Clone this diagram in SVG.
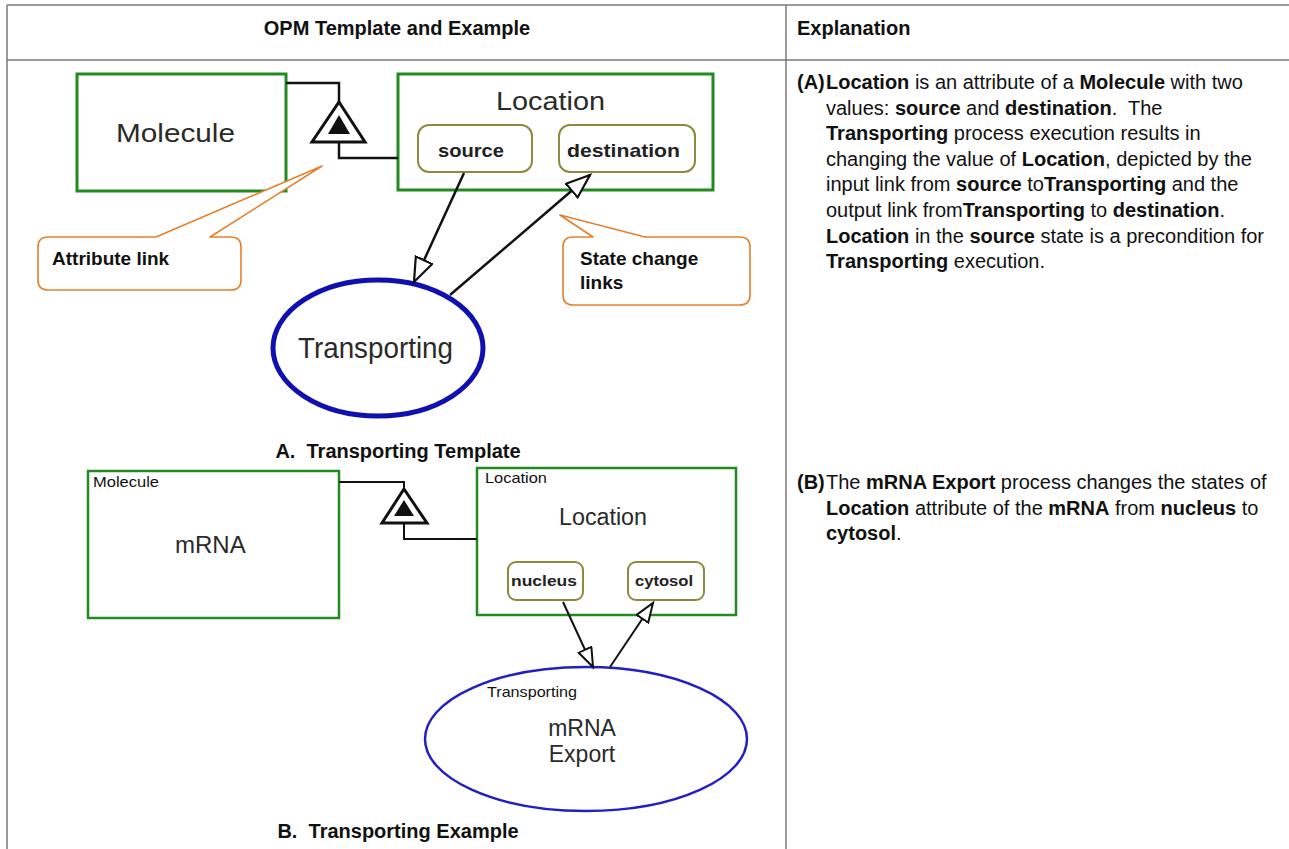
<svg xmlns="http://www.w3.org/2000/svg" width="1289" height="849" viewBox="0 0 1289 849">
<defs>
<style>
.grid{stroke:#7a7a7a;stroke-width:1.5;fill:none}
.hdr{font-family:"Liberation Sans",Arial,sans-serif;font-size:20px;font-weight:bold;fill:#111}
.cap{font-family:"Liberation Sans",Arial,sans-serif;font-size:20px;font-weight:bold;fill:#111;white-space:pre}
.exp{font-family:"Liberation Sans",Arial,sans-serif;font-size:20px;fill:#111;white-space:pre}
.b{font-weight:bold}
.obj{fill:#fff;stroke:#218a21;stroke-width:3}
.objB{fill:#fff;stroke:#218a21;stroke-width:2.5}
.state{fill:#fff;stroke:#8c8a3c;stroke-width:2}
.proc{fill:#fff;stroke:#1010b0;stroke-width:5}
.procB{fill:#fff;stroke:#2020c4;stroke-width:2.5}
.big{font-family:"Liberation Sans",Arial,sans-serif;fill:#2a2a2a}
.st{font-family:"Liberation Sans",Arial,sans-serif;font-weight:bold;fill:#222}
.sm{font-family:"Liberation Sans",Arial,sans-serif;font-size:15px;fill:#111}
.link{fill:none;stroke:#111;stroke-width:2.5}
.linkB{fill:none;stroke:#111;stroke-width:2}
.tri{fill:#fff;stroke:#111;stroke-width:3;stroke-linejoin:miter}
.callout{fill:#fff;stroke:#e5812c;stroke-width:1.6;stroke-linejoin:round}
.ctext{font-family:"Liberation Sans",Arial,sans-serif;font-size:19px;font-weight:bold;fill:#111}
</style>
<marker id="openA" markerUnits="userSpaceOnUse" markerWidth="30" markerHeight="24" refX="25" refY="10" orient="auto">
<path d="M1,1 L25,10 L1,19 Z" fill="#fff" stroke="#111" stroke-width="2.2"/>
</marker>
<marker id="openB" markerUnits="userSpaceOnUse" markerWidth="26" markerHeight="20" refX="20" refY="8" orient="auto">
<path d="M1,1 L20,8 L1,15 Z" fill="#fff" stroke="#111" stroke-width="2"/>
</marker>
</defs>
<rect x="0" y="0" width="1289" height="849" fill="#fff"/>

<g id="table">
<path class="grid" d="M7,5 H1289 M7,60 H1289 M7,5 V849 M786,5 V849"/>
<text class="hdr" x="397" y="35" text-anchor="middle">OPM Template and Example</text>
<text class="hdr" x="797" y="35">Explanation</text>
</g>

<g id="molecule-a">
<rect class="obj" x="77" y="74" width="209" height="117"/>
<text class="big" x="116" y="142" font-size="26" textLength="119" lengthAdjust="spacingAndGlyphs">Molecule</text>
</g>

<g id="location-a">
<rect class="obj" x="398" y="74" width="315" height="116"/>
<text class="big" x="496" y="110" font-size="26" textLength="109" lengthAdjust="spacingAndGlyphs">Location</text>
<rect class="state" x="418" y="125" width="114" height="47" rx="11"/>
<text class="st" x="438" y="157" font-size="19" textLength="66" lengthAdjust="spacingAndGlyphs">source</text>
<rect class="state" x="559" y="125" width="136" height="47" rx="11"/>
<text class="st" x="567" y="157" font-size="19" textLength="113" lengthAdjust="spacingAndGlyphs">destination</text>
</g>

<g id="transporting-a">
<ellipse class="proc" cx="378" cy="348" rx="105" ry="68"/>
<text class="big" x="298" y="358" font-size="29" textLength="155" lengthAdjust="spacingAndGlyphs">Transporting</text>
</g>

<g id="callout-attribute">
<path class="callout" d="M48,237 H156 L322,166 L210,237 H231 Q241,237 241,247 V280 Q241,290 231,290 H48 Q38,290 38,280 V247 Q38,237 48,237 Z"/>
<text class="ctext" x="52" y="265">Attribute link</text>
</g>

<g id="callout-state">
<path class="callout" d="M573,237 H593 L560,215 L645,237 H740 Q750,237 750,247 V295 Q750,305 740,305 H573 Q563,305 563,295 V247 Q563,237 573,237 Z"/>
<text class="ctext" x="580" y="265">State change</text>
<text class="ctext" x="580" y="289">links</text>
</g>

<text class="cap" x="398" y="458" text-anchor="middle">A.  Transporting Template</text>

<g id="molecule-b">
<rect class="objB" x="88" y="471" width="251" height="147"/>
<text class="sm" x="93" y="487" textLength="66" lengthAdjust="spacingAndGlyphs">Molecule</text>
<text class="big" x="175" y="553" font-size="24" fill="#222">mRNA</text>
</g>

<g id="location-b">
<rect class="objB" x="477" y="468" width="259" height="147"/>
<text class="sm" x="485" y="483" textLength="62" lengthAdjust="spacingAndGlyphs">Location</text>
<text class="big" x="559" y="525" font-size="23" textLength="88" lengthAdjust="spacingAndGlyphs">Location</text>
<rect class="state" x="508" y="562" width="75" height="38" rx="8"/>
<text class="st" x="511" y="586" font-size="15" textLength="66" lengthAdjust="spacingAndGlyphs">nucleus</text>
<rect class="state" x="628" y="562" width="76" height="38" rx="8"/>
<text class="st" x="635" y="586" font-size="15" textLength="58" lengthAdjust="spacingAndGlyphs">cytosol</text>
</g>

<g id="transporting-b">
<ellipse class="procB" cx="586" cy="739" rx="161" ry="72"/>
<text class="sm" x="487" y="697" textLength="90" lengthAdjust="spacingAndGlyphs">Transporting</text>
<text class="big" x="582" y="736" font-size="23" text-anchor="middle">mRNA</text>
<text class="big" x="582" y="762" font-size="23" text-anchor="middle">Export</text>
</g>

<text class="cap" x="398" y="838" text-anchor="middle">B.  Transporting Example</text>

<g id="connectors">
<path class="link" d="M286,83 H339 V102"/>
<path class="link" d="M339,142 V158 H398"/>
<path class="tri" d="M339,102 L365,142 L312,142 Z"/>
<path d="M339,115 L350,134 L328,134 Z" fill="#111"/>
<line class="link" x1="464" y1="173" x2="414" y2="282" marker-end="url(#openA)"/>
<line class="link" x1="450" y1="295" x2="590" y2="175" marker-end="url(#openA)"/>

<path class="linkB" d="M339,482 H404 V489"/>
<path class="linkB" d="M404,523 V539 H477"/>
<path class="tri" d="M404,489 L427,523 L382,523 Z"/>
<path d="M404,500 L414,516 L394,516 Z" fill="#111"/>
<line class="linkB" x1="563" y1="602" x2="593" y2="667" marker-end="url(#openB)"/>
<line class="linkB" x1="610" y1="667" x2="653" y2="603" marker-end="url(#openB)"/>
</g>

<g id="explanation-a">
<text class="exp b" x="797" y="89">(A)</text>
<text class="exp" x="826" y="89"><tspan class="b">Location</tspan> is an attribute of a <tspan class="b">Molecule</tspan> with two</text>
<text class="exp" x="826" y="114.6">values: <tspan class="b">source</tspan> and <tspan class="b">destination</tspan>.  The</text>
<text class="exp" x="826" y="140.2"><tspan class="b">Transporting</tspan> process execution results in</text>
<text class="exp" x="826" y="165.8">changing the value of <tspan class="b">Location</tspan>, depicted by the</text>
<text class="exp" x="826" y="191.4">input link from <tspan class="b">source</tspan> to<tspan class="b">Transporting</tspan> and the</text>
<text class="exp" x="826" y="217">output link from<tspan class="b">Transporting</tspan> to <tspan class="b">destination</tspan>.</text>
<text class="exp" x="826" y="242.6"><tspan class="b">Location</tspan> in the <tspan class="b">source</tspan> state is a precondition for</text>
<text class="exp" x="826" y="268.2"><tspan class="b">Transporting</tspan> execution.</text>
</g>

<g id="explanation-b">
<text class="exp b" x="797" y="489">(B)</text>
<text class="exp" x="826" y="489">The <tspan class="b">mRNA Export</tspan> process changes the states of</text>
<text class="exp" x="826" y="515"><tspan class="b">Location</tspan> attribute of the <tspan class="b">mRNA</tspan> from <tspan class="b">nucleus</tspan> to</text>
<text class="exp" x="826" y="540"><tspan class="b">cytosol</tspan>.</text>
</g>
</svg>
